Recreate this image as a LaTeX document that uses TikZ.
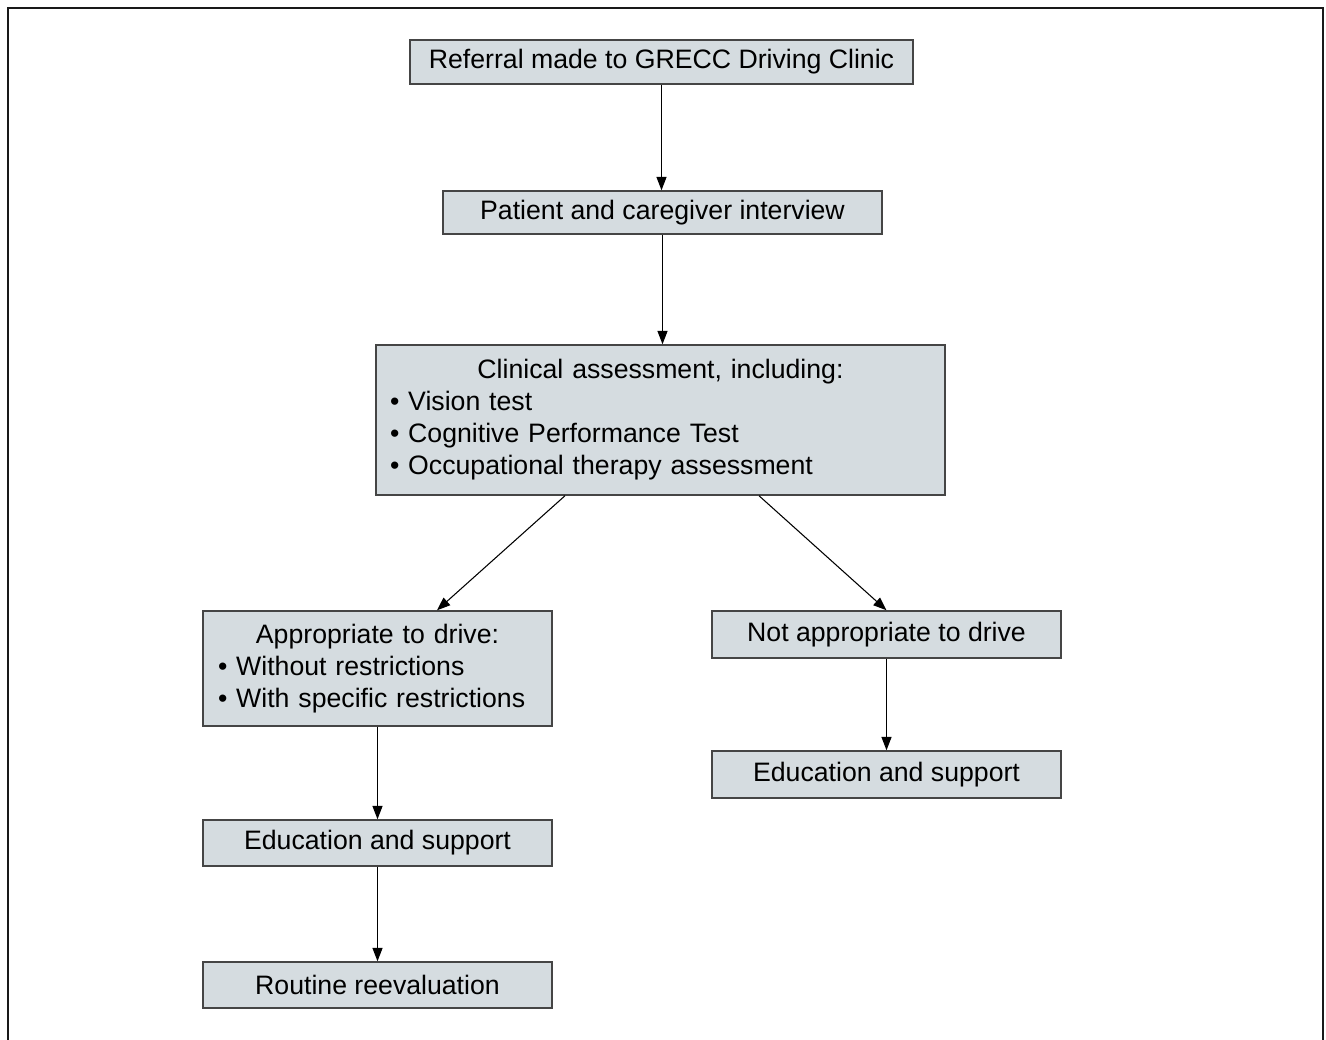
\documentclass[tikz,border=0pt]{standalone}
\usepackage{fontspec}
\setmainfont{Liberation Sans}
\usetikzlibrary{arrows.meta,calc}
\definecolor{boxfill}{HTML}{D5DCE0}
\definecolor{boxline}{HTML}{454545}
\tikzset{
  flowbox/.style={draw=boxline, line width=1.1pt, fill=boxfill, inner sep=0pt,
    font=\fontsize{20}{24}\selectfont, text=black},
  flowarrow/.style={draw=black, line width=0.8pt, -{Triangle[length=10pt,width=7.5pt]}},
}
\begin{document}
\begin{tikzpicture}[x=0.75pt,y=-0.75pt]
\useasboundingbox (0,0) rectangle (1326,1039);
\draw[line width=1.5pt, black!90] (7.5,1045) -- (7.5,7.5) -- (1322.5,7.5) -- (1322.5,1045);

\node[flowbox, minimum width=503*0.75pt, minimum height=44*0.75pt] (ref) at (661.5,62) {Referral made to GRECC Driving Clinic};
\node[flowbox, minimum width=439*0.75pt, minimum height=43*0.75pt] (pat) at (662.5,212.5) {Patient and caregiver interview};
\node[flowbox, minimum width=569*0.75pt, minimum height=150*0.75pt, text width=541*0.75pt, align=left] (clin) at (660.5,420)
  {\makebox[\linewidth]{Clinical assessment, including:}\\
   • Vision test\\
   • Cognitive Performance Test\\
   • Occupational therapy assessment\\[4pt]};
\node[flowbox, minimum width=349*0.75pt, minimum height=115*0.75pt, text width=319*0.75pt, align=left] (appr) at (377.5,668.5)
  {\makebox[\linewidth]{Appropriate to drive:}\\
   • Without restrictions\\
   • With specific restrictions\\[2pt]};
\node[flowbox, minimum width=349*0.75pt, minimum height=47*0.75pt] (nap) at (886.5,634.5) {Not appropriate to drive};
\node[flowbox, minimum width=349*0.75pt, minimum height=47*0.75pt] (edr) at (886.5,774.5) {Education and support};
\node[flowbox, minimum width=349*0.75pt, minimum height=46*0.75pt] (edl) at (377.5,843) {Education and support};
\node[flowbox, minimum width=349*0.75pt, minimum height=46*0.75pt] (rout) at (377.5,985) {Routine reevaluation};

\draw[flowarrow] (ref.south) -- (ref.south |- pat.north);
\draw[flowarrow] (pat.south) -- (pat.south |- clin.north);
\draw[flowarrow] ($(clin.south)+(-95.5,0)$) -- ($(appr.north)+(59.5,0)$);
\draw[flowarrow] ($(clin.south)+(98.5,0)$) -- (nap.north);
\draw[flowarrow] (appr.south) -- (edl.north);
\draw[flowarrow] (edl.south) -- (rout.north);
\draw[flowarrow] (nap.south) -- (edr.north);
\end{tikzpicture}
\end{document}
